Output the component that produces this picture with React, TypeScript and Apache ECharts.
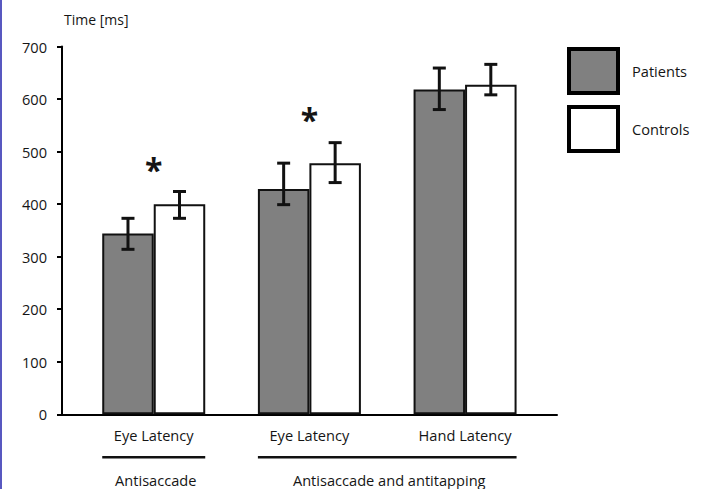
import React, { useEffect, useRef } from 'react';
import * as echarts from 'echarts';

// ---- data ----
const categories = ['Eye Latency', 'Eye Latency', 'Hand Latency'];
const seriesNames = ['Patients', 'Controls'];
const patients = [344, 429, 618];
const patientsLow = [314, 399, 580];
const patientsHigh = [373, 478, 659];
const controls = [400, 478, 627];
const controlsLow = [373, 441, 608];
const controlsHigh = [424, 517, 666];
const groupLabels = ['Antisaccade', 'Antisaccade and antitapping'];
const groupStart = [0, 1];
const groupEnd = [0, 2];
const sigCategory = [0, 1];
const sigValue = [470, 565];
const yMin = 0;
const yMax = 700;
const yStep = 100;
const yAxisName = 'Time [ms]';

// ---- styles ----
const FONT = 'Open Sans';
const TXT = '#151515';
const FS = 14.6;
const BAR_W = 51.5;
const GRAY = '#808080';

export default function App() {
  const ref = useRef<HTMLDivElement>(null);

  useEffect(() => {
    if (!ref.current) return;
    const chart = echarts.init(ref.current, null, { renderer: 'svg' });

    const errorSeries = (low: number[], high: number[], side: number) => ({
      type: 'custom',
      xAxisIndex: 1,
      yAxisIndex: 1,
      silent: true,
      z: 5,
      data: categories.map((_, i) => [i, low[i], high[i]]),
      renderItem: (params: any, api: any) => {
        const c = api.value(0);
        const x = api.coord([c, 0])[0] + (side * BAR_W) / 2;
        const yl = api.coord([c, api.value(1)])[1];
        const yh = api.coord([c, api.value(2)])[1];
        const st = { stroke: '#111', lineWidth: 3 };
        return {
          type: 'group',
          children: [
            { type: 'line', shape: { x1: x, y1: yl, x2: x, y2: yh }, style: st },
            { type: 'line', shape: { x1: x - 6.5, y1: yl, x2: x + 6.5, y2: yl }, style: st },
            { type: 'line', shape: { x1: x - 6.5, y1: yh, x2: x + 6.5, y2: yh }, style: st },
          ],
        };
      },
    });

    const option: any = {
      animation: false,
      backgroundColor: '#fff',
      textStyle: { fontFamily: FONT },
      grid: [
        { left: 62, right: 147, top: 46.5, bottom: 74.7 },
        { left: 75.9, right: 161.1, top: 46.5, bottom: 74.7 },
      ],
      legend: {
        orient: 'vertical',
        left: 567,
        top: 47,
        padding: 0,
        itemWidth: 49,
        itemHeight: 44,
        itemGap: 10,
        icon: 'rect',
        data: [
          { name: seriesNames[0], itemStyle: { color: GRAY, borderColor: '#000', borderWidth: 4 } },
          { name: seriesNames[1], itemStyle: { color: '#fff', borderColor: '#000', borderWidth: 4 } },
        ],
        textStyle: { fontFamily: FONT, fontSize: FS, color: TXT, padding: [0, 0, 0, 9] },
      },
      xAxis: [
        {
          type: 'value',
          gridIndex: 0,
          min: 0,
          max: 1,
          axisLine: { show: true, lineStyle: { color: '#000', width: 2 } },
          axisTick: { show: false },
          axisLabel: { show: false },
          splitLine: { show: false },
        },
        {
          type: 'category',
          gridIndex: 1,
          data: categories,
          axisLine: { show: false },
          axisTick: { show: false },
          axisLabel: { fontFamily: FONT, fontSize: FS, color: TXT, margin: 13 },
        },
      ],
      yAxis: [
        {
          type: 'value',
          gridIndex: 0,
          min: yMin,
          max: yMax,
          interval: yStep,
          name: yAxisName,
          nameLocation: 'end',
          nameGap: 27,
          nameTextStyle: {
            fontFamily: FONT,
            fontSize: 14,
            color: TXT,
            align: 'left',
            verticalAlign: 'middle',
            padding: [0, 0, 0, 2],
          },
          axisLine: { show: true, lineStyle: { color: '#000', width: 2 } },
          axisTick: { show: true, length: 5, lineStyle: { color: '#000', width: 2 } },
          axisLabel: { fontFamily: FONT, fontSize: FS, color: TXT, margin: 15 },
          splitLine: { show: false },
        },
        {
          type: 'value',
          gridIndex: 1,
          min: yMin,
          max: yMax,
          interval: yStep,
          show: false,
        },
      ],
      series: [
        {
          name: seriesNames[0],
          type: 'bar',
          xAxisIndex: 1,
          yAxisIndex: 1,
          data: patients,
          barWidth: BAR_W,
          barGap: '0%',
          itemStyle: { color: GRAY, borderColor: '#111', borderWidth: 2 },
        },
        {
          name: seriesNames[1],
          type: 'bar',
          xAxisIndex: 1,
          yAxisIndex: 1,
          data: controls,
          barWidth: BAR_W,
          barGap: '0%',
          itemStyle: { color: '#fff', borderColor: '#111', borderWidth: 2 },
        },
        errorSeries(patientsLow, patientsHigh, -1),
        errorSeries(controlsLow, controlsHigh, 1),
        {
          type: 'custom',
          xAxisIndex: 1,
          yAxisIndex: 1,
          silent: true,
          data: sigCategory.map((c, i) => [c, sigValue[i]]),
          renderItem: (params: any, api: any) => {
            const p = api.coord([api.value(0), api.value(1)]);
            return {
              type: 'text',
              x: p[0],
              y: p[1] + 2,
              style: {
                text: '*',
                fontFamily: FONT,
                fontSize: 32,
                fontWeight: 'bold',
                fill: TXT,
                align: 'center',
                verticalAlign: 'middle',
              },
            };
          },
        },
        {
          type: 'custom',
          xAxisIndex: 1,
          yAxisIndex: 1,
          silent: true,
          clip: false,
          data: groupLabels.map((g, i) => [groupStart[i], groupEnd[i], g]),
          renderItem: (params: any, api: any) => {
            const s = api.coord([api.value(0), 0]);
            const e = api.coord([api.value(1), 0]);
            const x1 = s[0] - BAR_W;
            const x2 = e[0] + BAR_W;
            const y0 = s[1];
            return {
              type: 'group',
              children: [
                {
                  type: 'line',
                  shape: { x1, y1: y0 + 43, x2, y2: y0 + 43 },
                  style: { stroke: '#111', lineWidth: 2.5 },
                },
                {
                  type: 'text',
                  x: (x1 + x2) / 2 + 2,
                  y: y0 + 66,
                  style: {
                    text: groupLabels[params.dataIndex],
                    fontFamily: FONT,
                    fontSize: FS,
                    fill: TXT,
                    align: 'center',
                    verticalAlign: 'middle',
                  },
                },
              ],
            };
          },
        },
      ],
    };

    chart.setOption(option);
    return () => chart.dispose();
  }, []);

  return (
    <div style={{ position: 'absolute', left: 0, top: 0, width: 704, height: 489, background: '#fff' }}>
      <div ref={ref} style={{ position: 'absolute', left: 0, top: 0, width: 704, height: 489 }} />
      <div style={{ position: 'absolute', left: 0, top: 0, width: 2, height: 489, background: '#5858c0' }} />
    </div>
  );
}
